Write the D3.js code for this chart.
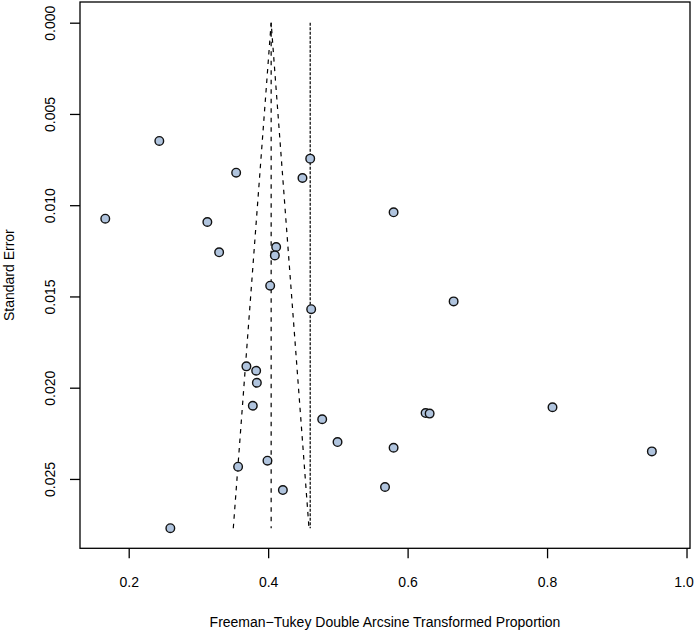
<!DOCTYPE html>
<html>
<head>
<meta charset="utf-8">
<script src="https://cdn.jsdelivr.net/npm/d3@7"></script>
<style>
  html, body { margin: 0; padding: 0; background: #fff; }
  svg { display: block; font-family: "Liberation Sans", Arial, sans-serif; }
</style>
</head>
<body>
<svg id="chart" width="695" height="634"></svg>
<script>
// Study effects (transformed proportion) and their standard errors
const proportions = [
  0.2439, 0.1664, 0.2597, 0.3541, 0.4603, 0.4492, 0.3128, 0.3297, 0.4115, 0.4096,
  0.4029, 0.4617, 0.3688, 0.3828, 0.3838, 0.3780, 0.4775, 0.4995, 0.3990, 0.3569,
  0.4211, 0.5799, 0.6660, 0.6258, 0.6316, 0.8078, 0.5799, 0.5676, 0.9503
];
const standardErrors = [
  0.00648, 0.01074, 0.02770, 0.00822, 0.00745, 0.00851, 0.01092, 0.01258, 0.01229, 0.01275,
  0.01441, 0.01570, 0.01883, 0.01907, 0.01973, 0.02099, 0.02173, 0.02298, 0.02400, 0.02433,
  0.02561, 0.01039, 0.01527, 0.02139, 0.02142, 0.02107, 0.02329, 0.02544, 0.02349
];
const xTicks = [0.2, 0.4, 0.6, 0.8, 1.0];
const yTicks = [0, 0.005, 0.010, 0.015, 0.020, 0.025];

// funnel: pooled estimate, second reference line, bottom of the funnel
const pooledEstimate = 0.4043;
const referenceLine = 0.4603;
const seMax = 0.0277;

const data = proportions.map((p, i) => ({ x: p, se: standardErrors[i] }));

const svg = d3.select("#chart");
const box = { left: 80, right: 690, top: 2, bottom: 548.3 };

const xScale = d3.scaleLinear().domain([0.13015, 1.005]).range([box.left, box.right]);
const yScale = d3.scaleLinear().domain([-0.001134, 0.0288]).range([box.top, box.bottom]);

// funnel lines
const line = d3.line().x(d => xScale(d[0])).y(d => yScale(d[1]));
svg.append("path")
  .attr("d", line([[pooledEstimate - 1.96 * seMax, seMax], [pooledEstimate, 0], [pooledEstimate + 1.96 * seMax, seMax]]))
  .attr("fill", "none").attr("stroke", "#000").attr("stroke-width", 1.2)
  .attr("stroke-dasharray", "4.5,5");
svg.append("path")
  .attr("d", line([[pooledEstimate, 0], [pooledEstimate, seMax]]))
  .attr("fill", "none").attr("stroke", "#000").attr("stroke-width", 1.2)
  .attr("stroke-dasharray", "4.5,5");
svg.append("path")
  .attr("d", line([[referenceLine, 0], [referenceLine, seMax]]))
  .attr("fill", "none").attr("stroke", "#000").attr("stroke-width", 1.2)
  .attr("stroke-dasharray", "3,1.5");

// points
svg.append("g").selectAll("circle")
  .data(data)
  .enter().append("circle")
    .attr("cx", d => xScale(d.x))
    .attr("cy", d => yScale(d.se))
    .attr("r", 4.3)
    .attr("fill", "#b0c4de")
    .attr("stroke", "#111")
    .attr("stroke-width", 1.4);

// box
svg.append("rect")
  .attr("x", box.left).attr("y", box.top)
  .attr("width", box.right - box.left).attr("height", box.bottom - box.top)
  .attr("fill", "none").attr("stroke", "#000").attr("stroke-width", 1.3);

// x axis
const xAxis = svg.append("g")
  .attr("transform", `translate(0,${box.bottom})`)
  .call(d3.axisBottom(xScale).tickValues(xTicks).tickSize(10).tickFormat(d3.format(".1f")));
xAxis.select(".domain").remove();
xAxis.selectAll("line").attr("stroke", "#000").attr("stroke-width", 1.3);
xAxis.selectAll("text")
  .attr("y", 39).attr("dy", 0)
  .attr("dx", d => d === 1.0 ? -3 : 0)
  .attr("font-size", 14).attr("fill", "#000")
  .attr("font-family", "Liberation Sans, Arial, sans-serif");

// y axis with rotated labels
const yAxis = svg.append("g")
  .attr("transform", `translate(${box.left},0)`)
  .call(d3.axisLeft(yScale).tickValues(yTicks).tickSize(10).tickFormat(d3.format(".3f")));
yAxis.select(".domain").remove();
yAxis.selectAll("line").attr("stroke", "#000").attr("stroke-width", 1.3);
yAxis.selectAll("text")
  .attr("x", 0).attr("y", 0).attr("dy", 0)
  .attr("transform", "translate(-25,0) rotate(-90)")
  .attr("text-anchor", "middle")
  .attr("font-size", 14).attr("fill", "#000")
  .attr("font-family", "Liberation Sans, Arial, sans-serif");

// axis titles
svg.append("text")
  .attr("x", (box.left + box.right) / 2).attr("y", 627)
  .attr("text-anchor", "middle").attr("font-size", 14)
  .text("Freeman\u2212Tukey Double Arcsine Transformed Proportion");
svg.append("text")
  .attr("transform", `translate(13.5,${(box.top + box.bottom) / 2}) rotate(-90)`)
  .attr("text-anchor", "middle").attr("font-size", 14)
  .text("Standard Error");
</script>
</body>
</html>
